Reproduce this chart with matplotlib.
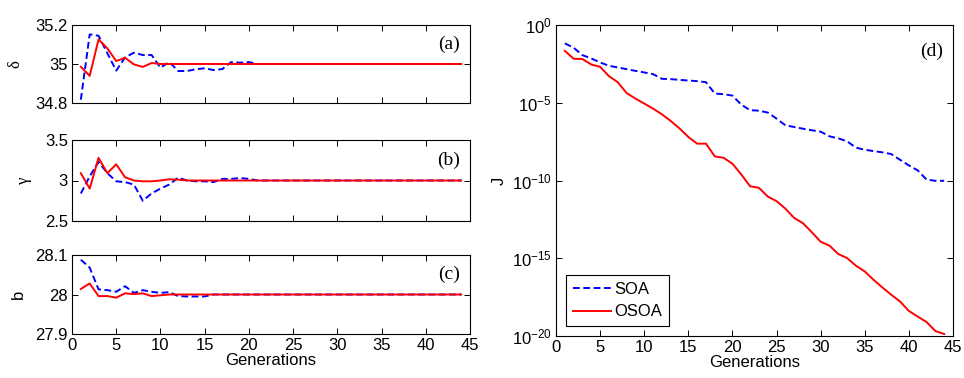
import numpy as np
import matplotlib
matplotlib.use("Agg")
import matplotlib.pyplot as plt
from matplotlib.ticker import FixedLocator, NullLocator

plt.rcParams['font.family'] = ['Liberation Sans', 'DejaVu Sans']
plt.rcParams['mathtext.default'] = 'regular'
plt.rcParams['font.size'] = 12

# generations 1..44
gens = np.arange(1, 45)

# delta estimates per generation
delta_soa = [34.817, 35.152, 35.145, 35.055, 34.966, 35.034, 35.058, 35.046, 35.046, 34.981,
             35.010, 34.964, 34.964, 34.973, 34.978, 34.969, 34.974, 35.010, 35.007, 35.010,
             35.0] + [35.0] * 23
delta_osoa = [34.986, 34.939, 35.126, 35.080, 35.015, 35.032, 34.998, 34.985, 35.005, 35.0] + [35.0] * 34

# gamma estimates
gamma_soa = [2.84, 3.05, 3.23, 3.09, 2.99, 2.98, 2.95, 2.75, 2.84, 2.90,
             2.95, 3.035, 3.0, 2.99, 2.99, 2.98, 3.02, 3.02, 3.03, 3.02,
             3.0] + [3.0] * 23
gamma_osoa = [3.09, 2.90, 3.28, 3.09, 3.20, 3.04, 3.0, 2.99, 2.99, 3.0,
              3.015, 3.01] + [3.0] * 32

# b estimates
b_soa = [28.088, 28.068, 28.013, 28.011, 28.007, 28.021, 28.004, 28.011, 28.007, 28.004,
         28.006, 27.996, 27.995, 27.995, 27.995, 28.0] + [28.0] * 28
b_osoa = [28.014, 28.028, 27.996, 27.996, 27.992, 28.003, 28.001, 28.003, 27.996, 27.998] + [28.0] * 34

# objective J, log10 values
logj_soa = [-1.18, -1.46, -1.94, -2.15, -2.41, -2.62, -2.73, -2.84, -2.95, -3.05,
            -3.16, -3.46, -3.48, -3.53, -3.57, -3.61, -3.68, -4.41, -4.45, -4.54,
            -5.12, -5.48, -5.51, -5.63, -6.02, -6.45, -6.56, -6.67, -6.77, -6.86,
            -7.16, -7.29, -7.48, -7.89, -8.02, -8.11, -8.19, -8.30, -8.67, -9.03,
            -9.35, -9.94, -10.02, -10.02]
logj_osoa = [-1.66, -2.17, -2.19, -2.54, -2.69, -3.29, -3.68, -4.37, -4.73, -5.05,
             -5.38, -5.74, -6.17, -6.65, -7.20, -7.63, -7.63, -8.45, -8.54, -8.92,
             -9.61, -10.37, -10.47, -11.03, -11.33, -11.81, -12.41, -12.75, -13.33, -13.94,
             -14.19, -14.73, -14.99, -15.48, -15.85, -16.39, -16.88, -17.35, -17.78, -18.39,
             -18.75, -19.10, -19.68, -19.87]

W, H = 964, 378
fig = plt.figure(figsize=(W / 100, H / 100), dpi=100)


def frac(x0, y0, x1, y1):
    return [x0 / W, 1 - y1 / H, (x1 - x0) / W, (y1 - y0) / H]


def style(ax):
    ax.tick_params(direction='in', top=True, right=True, length=4, width=0.7,
                   labelsize=12, pad=3)
    for sp in ax.spines.values():
        sp.set_linewidth(0.8)


blue_kw = dict(color='#0000ff', ls='--', lw=1.4, dashes=(3.5, 1.8))
red_kw = dict(color='#ff0000', ls='-', lw=1.4)

panels = [
    (frac(72, 25, 470, 103), delta_soa, delta_osoa, (34.8, 35.2), [34.8, 35, 35.2], ['34.8', '35', '35.2'],
     r'$\delta$', '(a)'),
    (frac(72, 140, 470, 221), gamma_soa, gamma_osoa, (2.5, 3.5), [2.5, 3, 3.5], ['2.5', '3', '3.5'],
     r'$\gamma$', '(b)'),
    (frac(72, 255, 470, 334), b_soa, b_osoa, (27.9, 28.1), [27.9, 28, 28.1], ['27.9', '28', '28.1'],
     'b', '(c)'),
]

for i, (rect, s, o, ylim, yt, ytl, ylab, tag) in enumerate(panels):
    ax = fig.add_axes(rect)
    ax.plot(gens, s, **blue_kw)
    ax.plot(gens, o, **red_kw)
    ax.set_xlim(0, 45)
    ax.set_ylim(*ylim)
    ax.set_xticks(np.arange(0, 46, 5))
    ax.set_yticks(yt)
    ax.set_yticklabels(ytl)
    style(ax)
    if i < 2:
        ax.set_xticklabels([])
        ax.set_ylabel(ylab, fontsize=12, labelpad=8, family='Liberation Serif')
    else:
        ax.set_xlabel('Generations', fontsize=12, labelpad=0)
        ax.set_ylabel(ylab, fontsize=12, labelpad=7)
    ax.text(0.975, 0.75, tag, transform=ax.transAxes, ha='right', va='center',
            family='Liberation Serif', fontsize=14)

ax = fig.add_axes(frac(556, 25, 953, 336))
ax.semilogy(gens, 10.0 ** np.array(logj_soa), label='SOA', **blue_kw)
ax.semilogy(gens, 10.0 ** np.array(logj_osoa), label='OSOA', **red_kw)
ax.set_xlim(0, 45)
ax.set_ylim(1e-20, 1e0)
ax.set_xticks(np.arange(0, 46, 5))
ax.yaxis.set_major_locator(FixedLocator([1e-20, 1e-15, 1e-10, 1e-5, 1e0]))
ax.yaxis.set_minor_locator(NullLocator())
style(ax)
ax.set_xlabel('Generations', fontsize=12, labelpad=0)
ax.set_ylabel('J', fontsize=12, labelpad=4)
ax.text(0.975, 0.915, '(d)', transform=ax.transAxes, ha='right', va='center',
        family='Liberation Serif', fontsize=14)
leg = ax.legend(loc='lower left', fancybox=False, edgecolor='black', framealpha=1,
                fontsize=12, handlelength=2.3, handletextpad=0.2,
                borderaxespad=0.6, labelspacing=0.45, borderpad=0.4)
leg.get_frame().set_linewidth(0.8)

fig.savefig('out.png', dpi=100)
